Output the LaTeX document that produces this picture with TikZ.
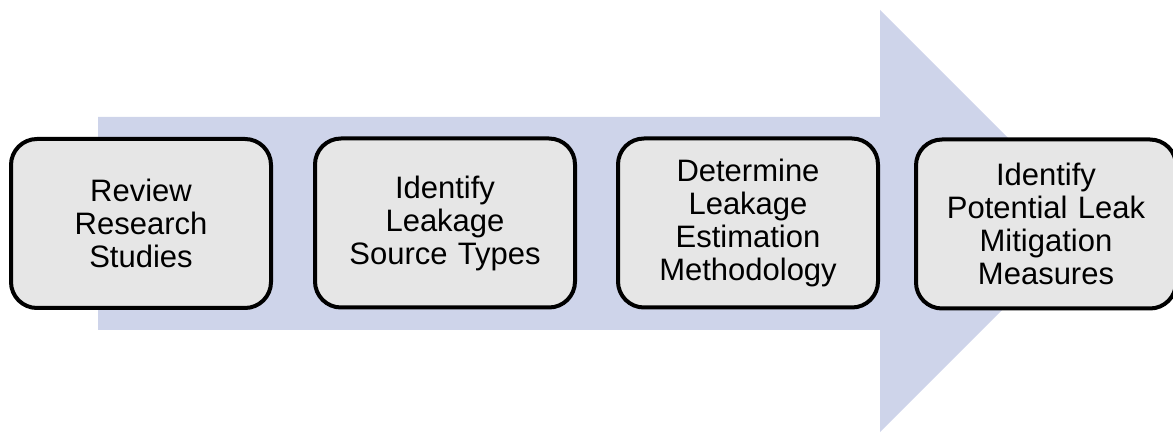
\documentclass[tikz,border=0pt]{standalone}
\usepackage{fontspec}
\setmainfont{Liberation Sans}
\definecolor{arrowfill}{HTML}{CED4EA}
\definecolor{boxfill}{HTML}{E6E6E6}
\tikzset{
  stepbox/.style={draw=black, line width=4pt, fill=boxfill, rounded corners=26pt,
    minimum width=260pt, minimum height=169pt, align=center, inner sep=0pt,
    font=\fontsize{31pt}{33pt}\selectfont, text width=250pt},
}
\begin{document}
\begin{tikzpicture}[x=1pt,y=1pt]
\useasboundingbox (0,0) rectangle (1173,434);
% big arrow
\fill[arrowfill] (98,317) -- (880,317) -- (880,424) -- (1091,213) -- (880,2) -- (880,104) -- (98,104) -- cycle;
\node[stepbox] (s1) at (141,210.5) {Review\\Research\\Studies};
\node[stepbox] (s2) at (445,211) {Identify\\Leakage\\Source Types};
\node[stepbox] (s3) at (748,211) {Determine\\Leakage\\Estimation\\Methodology};
\node[stepbox] (s4) at (1046,210) {Identify\\Potential Leak\\Mitigation\\Measures};
\end{tikzpicture}
\end{document}
